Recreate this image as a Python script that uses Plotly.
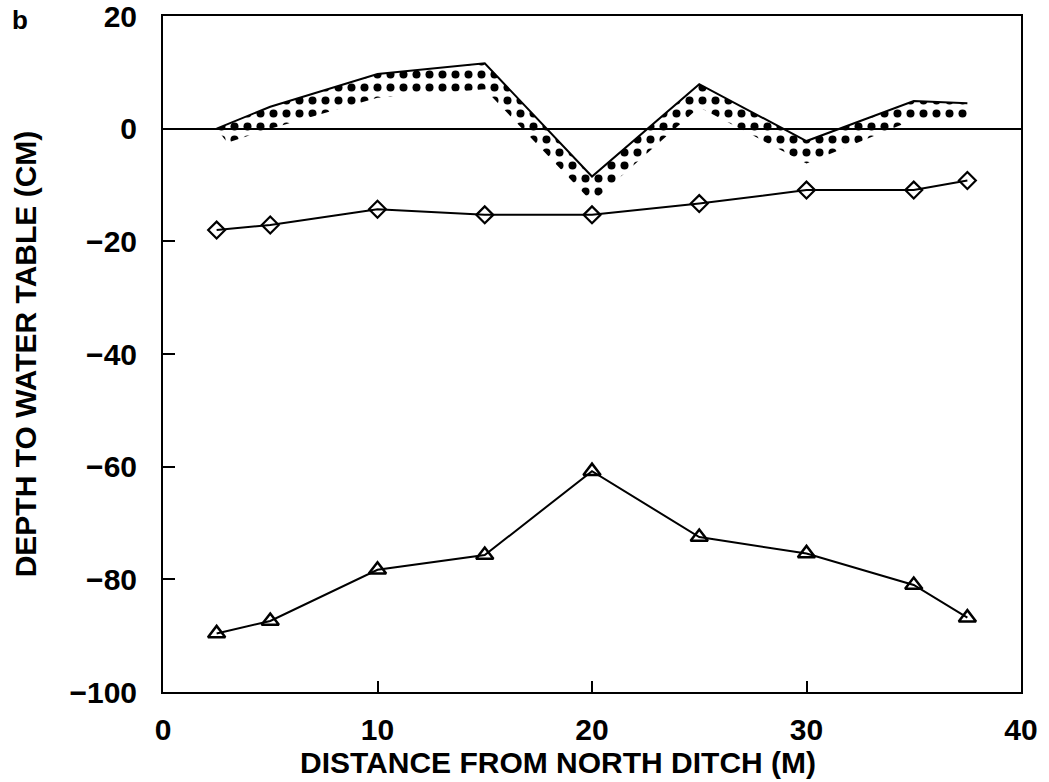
import plotly.graph_objects as go

# Data
distance = [2.5, 5, 10, 15, 20, 25, 30, 35, 37.5]
surface_line = [0.0, 3.9, 9.7, 11.6, -8.5, 7.9, -2.2, 4.9, 4.5]
stipple_x = [3, 5, 10, 15, 20, 25, 30, 35, 37.5]
stipple_lower = [-2.5, 0.0, 5.5, 7.0, -13.0, 3.8, -6.2, 1.6, 1.3]
diamond_series = [-18.0, -17.1, -14.3, -15.3, -15.3, -13.3, -10.9, -10.9, -9.2]
triangle_series = [-89.6, -87.4, -78.3, -75.7, -60.8, -72.5, -75.4, -81.0, -86.8]

x_ticks = [0, 10, 20, 30, 40]
y_ticks = [20, 0, -20, -40, -60, -80, -100]

FONT = "Liberation Sans"
FS = 30

fig = go.Figure()

# stippled band lower boundary (invisible line)
fig.add_trace(go.Scatter(
    x=stipple_x, y=stipple_lower, mode="lines",
    line=dict(width=0, color="rgba(0,0,0,0)"), showlegend=False, hoverinfo="skip"))

# solid upper line with stippled fill down to the lower boundary
fig.add_trace(go.Scatter(
    x=distance, y=surface_line, mode="lines",
    line=dict(color="black", width=2),
    fill="tonexty",
    fillcolor="rgba(255,255,255,0)",
    fillpattern=dict(shape=".", fgcolor="black", fgopacity=1,
                     bgcolor="rgba(255,255,255,0)",
                     size=13, solidity=0.3),
    showlegend=False))

fig.add_trace(go.Scatter(
    x=distance, y=diamond_series, mode="lines+markers",
    line=dict(color="black", width=2),
    marker=dict(symbol="diamond-open", size=13, color="black", line=dict(width=2.2)),
    showlegend=False))

fig.add_trace(go.Scatter(
    x=distance, y=triangle_series, mode="lines+markers",
    line=dict(color="black", width=2),
    marker=dict(symbol="triangle-up-open", size=15, color="black", line=dict(width=2.5)),
    showlegend=False))

fig.update_layout(
    width=1049, height=782,
    margin=dict(l=163, r=28, t=16, b=90, autoexpand=False),
    paper_bgcolor="white", plot_bgcolor="white",
    font=dict(family=FONT, size=FS, color="black", weight="bold"),
    showlegend=False,
)

fig.update_xaxes(
    range=[0, 40], tickvals=x_ticks, ticktext=[str(v) for v in x_ticks],
    showline=True, linecolor="black", linewidth=2, mirror=True,
    ticks="inside", ticklen=11, tickwidth=2, tickcolor="black",
    showgrid=False, zeroline=False, ticklabelstandoff=10, automargin=False,
    ticklabeloverflow="allow",
    tickfont=dict(family=FONT, size=FS, weight="bold"),
)
fig.update_yaxes(
    range=[-100, 20], tickvals=y_ticks,
    showline=True, linecolor="black", linewidth=2, mirror=True,
    ticks="inside", ticklen=12, tickwidth=2, tickcolor="black",
    showgrid=False, zeroline=True, zerolinecolor="black", zerolinewidth=1.5,
    ticklabelstandoff=18, automargin=False, ticklabeloverflow="allow",
    tickfont=dict(family=FONT, size=FS, weight="bold"),
    title=dict(text="DEPTH TO WATER TABLE (CM)", standoff=24,
               font=dict(family=FONT, size=FS, weight="bold")),
)

fig.add_annotation(
    text="DISTANCE FROM NORTH DITCH (M)", xref="x", yref="paper",
    x=18.4, y=0, yshift=-70, showarrow=False, xanchor="center", yanchor="middle",
    font=dict(family=FONT, size=FS, weight="bold"))

fig.add_annotation(
    text="b", xref="paper", yref="paper", x=0, y=1, xshift=-143, yshift=-4,
    showarrow=False, xanchor="center", yanchor="middle",
    font=dict(family=FONT, size=26, weight="bold"))

fig.write_html("out.html")
